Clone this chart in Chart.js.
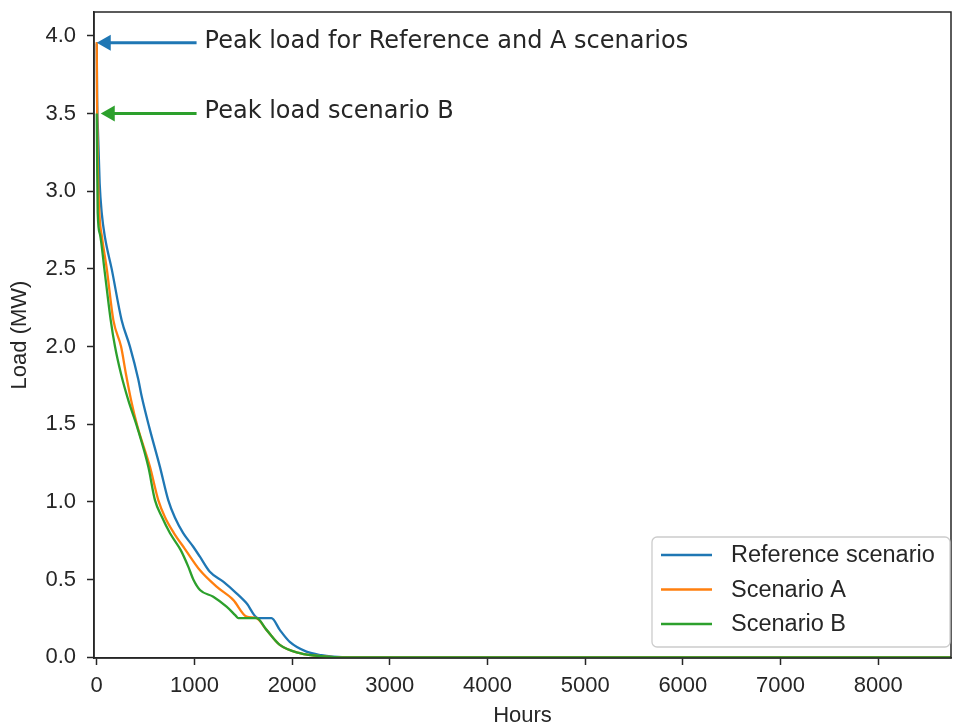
<!DOCTYPE html>
<html>
<head>
<meta charset="utf-8">
<script src="https://cdn.jsdelivr.net/npm/chart.js@4"></script>
<style>
  html, body { margin: 0; padding: 0; background: #fff; }
  canvas { display: block; }
</style>
</head>
<body>
<canvas id="loadChart" width="953" height="727"></canvas>
<script>
// load duration curves
const refHours = [0, 4, 12, 30, 51, 85, 153, 255, 340, 425, 460, 538, 647, 732, 800, 885, 988, 1056, 1158, 1295, 1431, 1534, 1652, 1789, 1874, 1976, 2147, 2300, 2419, 2600, 8760];
const refLoad = [3.95, 3.6, 3.4, 3.05, 2.86, 2.70, 2.50, 2.17, 2.00, 1.79, 1.68, 1.48, 1.226, 1.012, 0.90, 0.80, 0.712, 0.648, 0.551, 0.487, 0.412, 0.348, 0.252, 0.252, 0.177, 0.10, 0.037, 0.014, 0.005, 0, 0];

const aHours = [0, 3, 10, 27, 55, 103, 170, 249, 300, 350, 415, 545, 630, 700, 790, 900, 1057, 1227, 1397, 1534, 1636, 1738, 1874, 2079, 2352, 2500, 8760];
const aLoad = [3.96, 3.6, 3.2, 2.86, 2.70, 2.50, 2.17, 2.00, 1.82, 1.66, 1.49, 1.226, 1.012, 0.90, 0.80, 0.70, 0.56, 0.455, 0.37, 0.262, 0.252, 0.177, 0.08, 0.027, 0.005, 0, 0];

const bHours = [0, 4, 10, 34, 78, 143, 187, 250, 323, 415, 528, 596, 670, 749, 860, 937, 990, 1057, 1193, 1329, 1420, 1450, 1636, 1738, 1874, 2079, 2352, 2500, 8760];
const bLoad = [3.5, 3.2, 2.86, 2.72, 2.50, 2.17, 2.00, 1.82, 1.655, 1.48, 1.226, 1.012, 0.90, 0.80, 0.69, 0.584, 0.50, 0.434, 0.39, 0.326, 0.27, 0.252, 0.252, 0.177, 0.08, 0.027, 0.005, 0, 0];

const seriesNames = ['Reference scenario', 'Scenario A', 'Scenario B'];
const xTickValues = [0, 1000, 2000, 3000, 4000, 5000, 6000, 7000, 8000];
const yTickValues = [0, 0.5, 1.0, 1.5, 2.0, 2.5, 3.0, 3.5, 4.0];

const BLUE = '#1f77b4', ORANGE = '#ff7f0e', GREEN = '#2ca02c';
const INK = '#262626';

function toPoints(hours, load) {
    return hours.map((h, i) => ({ x: h, y: load[i] }));
}

function lineSet(label, hours, load, color, order) {
    return {
        label,
        data: toPoints(hours, load),
        borderColor: color,
        backgroundColor: color,
        borderWidth: 2.3,
        pointRadius: 0,
        cubicInterpolationMode: 'monotone',
        fill: false,
        order, // B on top, like matplotlib draw order
    };
}

const notes = [
    { text: 'Peak load for Reference and A scenarios', tip: [0, 3.955], tailX: 1022, textX: 1104, color: BLUE },
    { text: 'Peak load scenario B', tip: [41, 3.5], tailX: 1022, textX: 1104, color: GREEN },
];

const framePlugin = {
    id: 'frame',
    afterDatasetsDraw(chart) {
        const { ctx, chartArea: a, scales } = chart;
        ctx.save();
        ctx.strokeStyle = INK;
        ctx.lineWidth = 1.5;
        ctx.strokeRect(a.left, a.top, a.right - a.left, a.bottom - a.top);

        // arrows + texts
        notes.forEach(n => {
            const tx = scales.x.getPixelForValue(n.tip[0]);
            const ty = scales.y.getPixelForValue(n.tip[1]);
            const ex = scales.x.getPixelForValue(n.tailX);
            const headLen = 14, headHalf = 8;
            ctx.strokeStyle = n.color;
            ctx.fillStyle = n.color;
            ctx.lineWidth = 2.8;
            ctx.beginPath();
            ctx.moveTo(ex, ty);
            ctx.lineTo(tx + headLen - 1, ty);
            ctx.stroke();
            ctx.beginPath();
            ctx.moveTo(tx, ty);
            ctx.lineTo(tx + headLen, ty - headHalf);
            ctx.lineTo(tx + headLen, ty + headHalf);
            ctx.closePath();
            ctx.fill();
            ctx.fillStyle = INK;
            ctx.font = '24px "DejaVu Sans"';
            ctx.textBaseline = 'alphabetic';
            ctx.textAlign = 'left';
            ctx.fillText(n.text, scales.x.getPixelForValue(n.textX), ty + 4.8);
        });
        ctx.restore();
    },
    afterDraw(chart) {
        // legend box, lower right
        const { ctx } = chart;
        const bx = 652, by = 537, bw = 298, bh = 110, r = 5;
        ctx.save();
        ctx.beginPath();
        ctx.moveTo(bx + r, by);
        ctx.arcTo(bx + bw, by, bx + bw, by + bh, r);
        ctx.arcTo(bx + bw, by + bh, bx, by + bh, r);
        ctx.arcTo(bx, by + bh, bx, by, r);
        ctx.arcTo(bx, by, bx + bw, by, r);
        ctx.closePath();
        ctx.fillStyle = 'rgba(255,255,255,0.8)';
        ctx.fill();
        ctx.strokeStyle = '#cccccc';
        ctx.lineWidth = 1.3;
        ctx.stroke();
        chart.data.datasets.forEach((ds, i) => {
            const y = 555 + i * 34.5;
            ctx.strokeStyle = ds.borderColor;
            ctx.lineWidth = 2.3;
            ctx.beginPath();
            ctx.moveTo(661, y);
            ctx.lineTo(712, y);
            ctx.stroke();
            ctx.fillStyle = INK;
            ctx.font = '23.5px "Liberation Sans", Arial, sans-serif';
            ctx.textBaseline = 'middle';
            ctx.textAlign = 'left';
            ctx.fillText(ds.label, 731, y + 1);
        });
        ctx.restore();
    },
};

const tickFont = { family: '"Liberation Sans", Arial, sans-serif', size: 22 };

function noEdgePadding(s) {
    s.paddingTop = 0;
    s.paddingBottom = 0;
    s.paddingLeft = 0;
    s.paddingRight = 0;
}

const config = {
    type: 'line',
    data: {
        datasets: [
            lineSet(seriesNames[0], refHours, refLoad, BLUE, 3),
            lineSet(seriesNames[1], aHours, aLoad, ORANGE, 2),
            lineSet(seriesNames[2], bHours, bLoad, GREEN, 1),
        ],
    },
    options: {
        responsive: false,
        animation: false,
        layout: { padding: { top: 12, right: 2, left: 0, bottom: 0 } },
        plugins: {
            legend: { display: false },
            tooltip: { enabled: false },
        },
        scales: {
            x: {
                type: 'linear',
                min: -28,
                max: 8745,
                afterBuildTicks: s => { s.ticks = xTickValues.map(v => ({ value: v })); },
                afterFit: s => { s.height = 69; noEdgePadding(s); },
                ticks: { font: tickFont, color: INK, padding: 8, maxRotation: 0, callback: v => String(v) },
                grid: { drawOnChartArea: false, tickLength: 7, tickWidth: 1.5, tickColor: INK },
                border: { color: INK, width: 1.5 },
                title: { display: true, text: 'Hours', color: INK, font: { ...tickFont, lineHeight: 1 }, padding: { top: 0, bottom: 0 } },
            },
            y: {
                type: 'linear',
                min: -0.004,
                max: 4.153,
                afterBuildTicks: s => { s.ticks = yTickValues.map(v => ({ value: v })); },
                afterFit: s => { s.width = 94; noEdgePadding(s); },
                ticks: { font: tickFont, color: INK, padding: 11, callback: v => v.toFixed(1) },
                grid: { drawOnChartArea: false, tickLength: 7, tickWidth: 1.5, tickColor: INK },
                border: { color: INK, width: 1.5 },
                title: { display: true, text: 'Load (MW)', color: INK, font: { ...tickFont, lineHeight: 1 }, padding: { top: 9, bottom: 0 } },
            },
        },
    },
    plugins: [framePlugin],
};

let loadChart = new Chart(document.getElementById('loadChart'), config);
</script>
</body>
</html>
